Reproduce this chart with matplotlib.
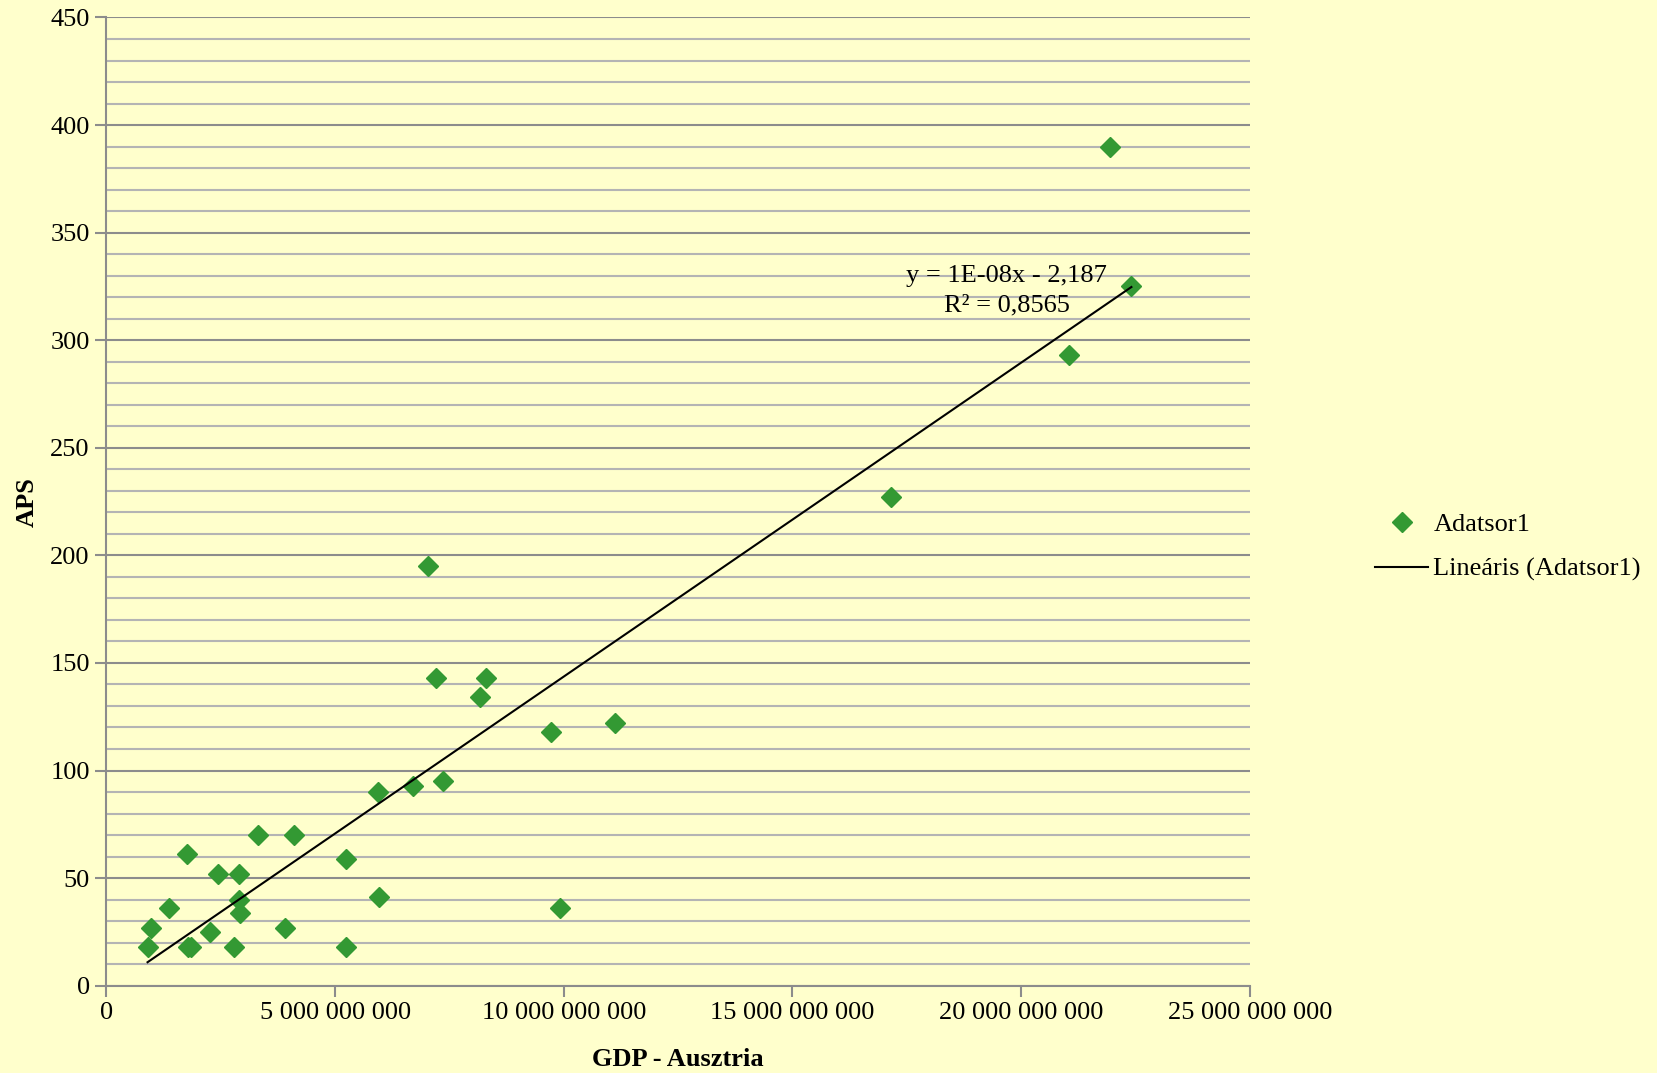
import numpy as np
import matplotlib.pyplot as plt
from matplotlib.ticker import MultipleLocator, FuncFormatter

plt.rcParams['font.family'] = ['Liberation Serif', 'DejaVu Serif']

# GDP - Ausztria (milliard) es APS ertekek
gdp_bn = [0.90, 0.97, 1.37, 1.76, 1.78, 1.85, 2.27, 2.43, 2.78, 2.89, 2.89,
          2.92, 3.31, 3.91, 4.10, 5.23, 5.23, 5.93, 5.95, 6.71, 7.04, 7.20,
          7.36, 8.17, 8.31, 9.72, 9.91, 11.13, 17.15, 21.04, 21.94, 22.41]
aps = [18, 27, 36, 61, 18, 18, 25, 52, 18, 52, 40,
       34, 70, 27, 70, 59, 18, 90, 41, 93, 195, 143,
       95, 134, 143, 118, 36, 122, 227, 293, 390, 325]

x = np.array(gdp_bn) * 1e9
y = np.array(aps)

bg = '#ffffcc'
fs = 19
fig = plt.figure(figsize=(16.57, 10.73), dpi=100, facecolor=bg)
ax = fig.add_axes([0.0642, 0.0814, 0.6901, 0.9023])
ax.set_facecolor(bg)

pts, = ax.plot(x, y, 'D', color='#339933', markersize=10.5, linestyle='none',
               label='Adatsor1')

# linearis trend
k, b = np.polyfit(x, y, 1)
xs = np.array([x.min(), x.max()])
trend, = ax.plot(xs, k * xs + b, color='black', lw=1.5,
                 label='Lineáris (Adatsor1)')

ax.text(19.68e9, 330, 'y = 1E-08x - 2,187', ha='center', va='center', fontsize=fs)
ax.text(19.68e9, 316, 'R² = 0,8565', ha='center', va='center', fontsize=fs)

ax.set_xlim(0, 25e9)
ax.set_ylim(0, 450)
ax.xaxis.set_major_locator(MultipleLocator(5e9))
ax.yaxis.set_major_locator(MultipleLocator(50))
ax.yaxis.set_minor_locator(MultipleLocator(10))
ax.xaxis.set_major_formatter(FuncFormatter(
    lambda v, p: '{:,.0f}'.format(v).replace(',', ' ')))

ax.grid(True, which='major', axis='y', color='#8c8c8c', lw=1.5)
ax.grid(True, which='minor', axis='y', color='#b4b4b4', lw=1.5)
ax.set_axisbelow(True)

for s in ['top', 'right']:
    ax.spines[s].set_visible(False)
for s in ['left', 'bottom']:
    ax.spines[s].set_color('#8c8c8c')
    ax.spines[s].set_linewidth(1.5)
ax.tick_params(which='major', length=8, width=1.5, color='#8c8c8c',
               labelsize=fs, pad=4)
ax.tick_params(which='minor', length=0)

ax.set_xlabel('GDP - Ausztria', fontsize=fs, fontweight='bold', labelpad=17)
ax.set_ylabel('APS', fontsize=fs, fontweight='bold', labelpad=8)

fig.legend(handles=[pts, trend], loc='center left',
           bbox_to_anchor=(0.830, 0.49), frameon=False, fontsize=fs,
           handlelength=2.0, handletextpad=0.2, labelspacing=0.8,
           numpoints=1, borderaxespad=0, borderpad=0)

fig.savefig('out.png', dpi=100, facecolor=bg)
